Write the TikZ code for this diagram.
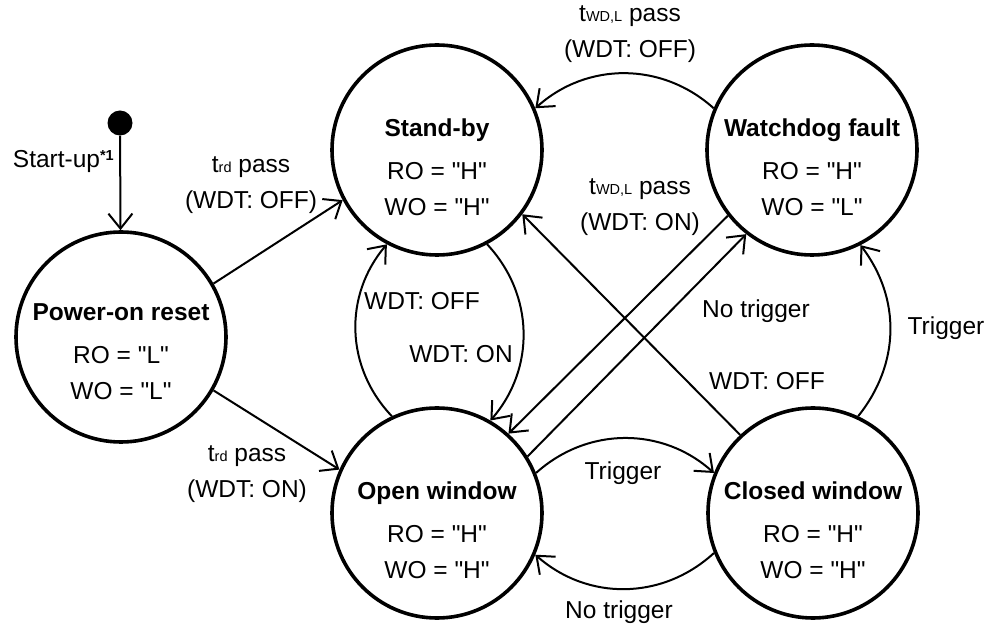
\documentclass[tikz,border=0pt]{standalone}
\usepackage{fontspec}
\setmainfont{Liberation Sans}
\usetikzlibrary{arrows.meta}
\newcommand{\smalltxt}[1]{{\fontsize{14.5}{14.5}\selectfont #1}}
\newcommand{\qlvl}[1]{\textquotedbl#1\textquotedbl}

\begin{document}
\begin{tikzpicture}[
		x=1pt, y=-1pt,
		every node/.style={font=\fontsize{24.5}{36}\selectfont, inner sep=0pt},
		state/.style={circle, draw, line width=3.6pt, minimum size=210pt},
		info/.style={align=center},
		trans/.style={-{Straight Barb[length=15pt,width=24pt]}, line width=2pt}
	]
  \useasboundingbox (0,0) rectangle (989,628);
  % states
  \node (init) [circle, fill, minimum size=25pt] at (120,123) {};
  \node (po) [state] at (121,337) {};
  \node (sb) [state] at (437,150) {};
  \node (wf) [state] at (812,150) {};
  \node (ow) [state] at (437,513) {};
  \node (cw) [state] at (813,513) {};
  \node (po-txt) [info] at (121,352) {\textbf{Power-on reset}\\[7pt] RO = \qlvl{L}\\ WO = \qlvl{L}};
  \node (sb-txt) [info] at (437,167) {\textbf{Stand-by}\\[7pt] RO = \qlvl{H}\\ WO = \qlvl{H}};
  \node (wf-txt) [info] at (812,167) {\textbf{Watchdog fault}\\[7pt] RO = \qlvl{H}\\ WO = \qlvl{L}};
  \node (ow-txt) [info] at (437,530) {\textbf{Open window}\\[7pt] RO = \qlvl{H}\\ WO = \qlvl{H}};
  \node (cw-txt) [info] at (813,530) {\textbf{Closed window}\\[7pt] RO = \qlvl{H}\\ WO = \qlvl{H}};
  % transitions
  \draw [trans] (init) -- (po);
  \draw [trans] (po.30) -- (sb.208);
  \draw [trans] (po.-30) -- (ow.156);
  \draw [trans] (ow.115) to [bend left=42] (sb.242);
  \draw [trans] (sb.-62) to [bend left=42] (ow.60);
  \draw [trans] (wf.157) to [bend right=42] (sb.23);
  \draw [trans] (wf.218) -- (ow.48);
  \draw [trans] (ow.32) -- (wf.232);
  \draw [trans] (cw.133) -- (sb.-37);
  \draw [trans] (cw.65) to [bend right=38] (wf.-63);
  \draw [trans] (ow.22) to [bend left=42] (cw.158);
  \draw [trans] (cw.202) to [bend left=42] (ow.-23);
  % labels
  \node (l-start) [anchor=east] at (114,161) {Start-up\raisebox{7pt}{\smalltxt{\bfseries *1}}};
  \node (l-rdoff) [info] at (251,185) {t\smalltxt{rd} pass\\ (WDT: OFF)};
  \node (l-rdon) [info] at (247,474) {t\smalltxt{rd} pass\\ (WDT: ON)};
  \node (l-wdoff) [info] at (630,34) {t\smalltxt{WD,L} pass\\ (WDT: OFF)};
  \node (l-wdon) [info] at (640,207) {t\smalltxt{WD,L} pass\\ (WDT: ON)};
  \node (l-off1) at (422,301) {WDT: OFF};
  \node (l-on1) at (461,354) {WDT: ON};
  \node (l-notrig1) at (756,311) {No trigger};
  \node (l-off2) at (767,381) {WDT: OFF};
  \node (l-trig1) at (946,328) {Trigger};
  \node (l-trig2) at (623,473) {Trigger};
  \node (l-notrig2) at (619,612) {No trigger};
\end{tikzpicture}
\end{document}
